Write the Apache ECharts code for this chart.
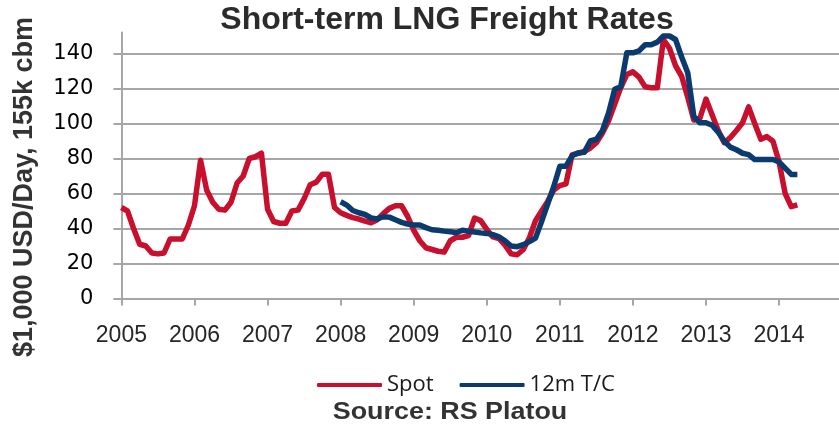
<!DOCTYPE html>
<html>
<head>
<meta charset="utf-8">
<script src="https://cdn.jsdelivr.net/npm/echarts@6/dist/echarts.min.js"></script>
<style>
html,body{margin:0;padding:0;background:#fff;}
#chart{width:839px;height:426px;}
</style>
</head>
<body>
<div id="chart"></div>
<script>
// Monthly values, Spot from Jan 2005, 12m T/C from Jan 2008
const spotStart = 2005;
const spotValues = [
  52, 50, 40, 31, 30, 26, 25.5, 26, 34, 34, 34, 42,
  53, 79, 62, 55, 51, 50.5, 55, 66, 70, 80, 81, 83,
  51, 44, 43, 43, 50, 50.5, 57, 65, 66.5, 71, 71, 52,
  49, 47.5, 46.2, 45.4, 44.2, 43.3, 45, 48.5, 51.5, 53, 53, 47,
  39, 33, 29, 28, 27, 26.5, 33, 35, 35, 36, 46, 44.5,
  39.5, 35.2, 34.3, 30.5, 25.5, 25, 28, 34.7, 44.5, 50, 55.5, 62,
  64.5, 65.5, 82, 83, 84, 86, 89, 94.5, 101.5, 111, 120.5, 128,
  129.5, 126.5, 121, 120.4, 120.4, 148, 143, 133, 127, 115, 102, 103,
  114, 105, 96, 89, 92, 96, 100.4, 109.5, 100, 91, 92.5, 89.9,
  78, 60, 52.5, 53.5
];
const tcStart = 2008;
const tcValues = [
  55.3, 53.4, 50.3, 49, 48, 46, 45.5, 46.7, 46.5, 45, 43.5, 42.5,
  42, 42, 40.5, 39.3, 39, 38.5, 38.2, 37.6, 39, 38.4, 38, 37.5,
  37.2, 36.5, 35.2, 33, 30, 29.6, 30.8, 32.5, 34.5, 44, 54, 64,
  75.6, 75.6, 81.5, 83.2, 83.5, 90, 91, 96, 106, 119.5, 121, 140.4,
  140.4, 141.5, 145, 145, 146.5, 150, 150, 148, 138, 129, 104, 100.4,
  100.4, 99, 95, 90, 86.5, 85, 83, 82.2, 79.4, 79.4, 79.4, 79.4,
  78, 74.5, 70.9, 70.9
];
const yearTicks = [2005, 2006, 2007, 2008, 2009, 2010, 2011, 2012, 2013, 2014];
const yTicks = [0, 20, 40, 60, 80, 100, 120, 140];
const seriesNames = ['Spot', '12m T/C'];
const titleText = 'Short-term LNG Freight Rates';
const yAxisTitle = '$1,000 USD/Day, 155k cbm';
const sourceText = 'Source: RS Platou';

const toPairs = (start, vals) => vals.map((v, i) => [start + i / 12, v]);

const chart = echarts.init(document.getElementById('chart'), null, {renderer: 'canvas'});
const grayAxis = '#a6a6a6';
const red = '#c8102e';
const blue = '#0b3a6e';
chart.setOption({
  animation: false,
  backgroundColor: '#ffffff',
  grid: {left: 121.4, right: 0, top: 32.5, bottom: 127.5, containLabel: false},
  legend: {
    left: 317, top: 374, padding: 0,
    itemWidth: 65, itemHeight: 4, itemGap: 26,
    icon: 'roundRect',
    textStyle: {fontFamily: 'Open Sans', fontSize: 22, color: '#1a1a1a'},
    data: seriesNames
  },
  xAxis: {
    type: 'value', min: 2005, max: 2014.82, interval: 1,
    axisLine: {show: true, lineStyle: {color: grayAxis, width: 2}},
    axisTick: {show: true, length: 7, customValues: yearTicks, lineStyle: {color: grayAxis, width: 2}},
    axisLabel: {customValues: yearTicks, margin: 26, fontFamily: 'Liberation Sans', fontSize: 23, color: '#262626',
      formatter: v => String(Math.round(v))},
    splitLine: {show: false}
  },
  yAxis: {
    type: 'value', min: 0, max: 152, interval: 20,
    axisLine: {show: true, lineStyle: {color: grayAxis, width: 2}},
    axisTick: {show: true, length: 8, customValues: yTicks, lineStyle: {color: grayAxis, width: 2}},
    axisLabel: {customValues: yTicks, margin: 28, fontFamily: 'DejaVu Sans', fontSize: 21, color: '#000'},
    splitLine: {show: true, lineStyle: {color: grayAxis, width: 2}}
  },
  series: [
    {name: seriesNames[0], type: 'line', data: toPairs(spotStart, spotValues), symbol: 'none',
     lineStyle: {color: red, width: 5.5, join: 'round'}, itemStyle: {color: red}},
    {name: seriesNames[1], type: 'line', data: toPairs(tcStart, tcValues), symbol: 'none',
     lineStyle: {color: blue, width: 5.5, join: 'round'}, itemStyle: {color: blue}}
  ],
  graphic: [
    {type: 'text', x: 447, y: 20, style: {text: titleText, font: 'bold 32px "Liberation Sans", Arial, sans-serif',
      fill: '#2b2b2b', align: 'center', verticalAlign: 'middle'}},
    {type: 'text', x: 24.5, y: 187, rotation: Math.PI / 2, style: {text: yAxisTitle,
      font: 'bold 27px "Liberation Sans", Arial, sans-serif', fill: '#333', align: 'center', verticalAlign: 'middle'}},
    {type: 'text', x: 450, y: 412, scaleX: 1.12, style: {text: sourceText,
      font: 'bold 24px "Liberation Sans", Arial, sans-serif', fill: '#333', align: 'center', verticalAlign: 'middle'}}
  ]
});
</script>
</body>
</html>
